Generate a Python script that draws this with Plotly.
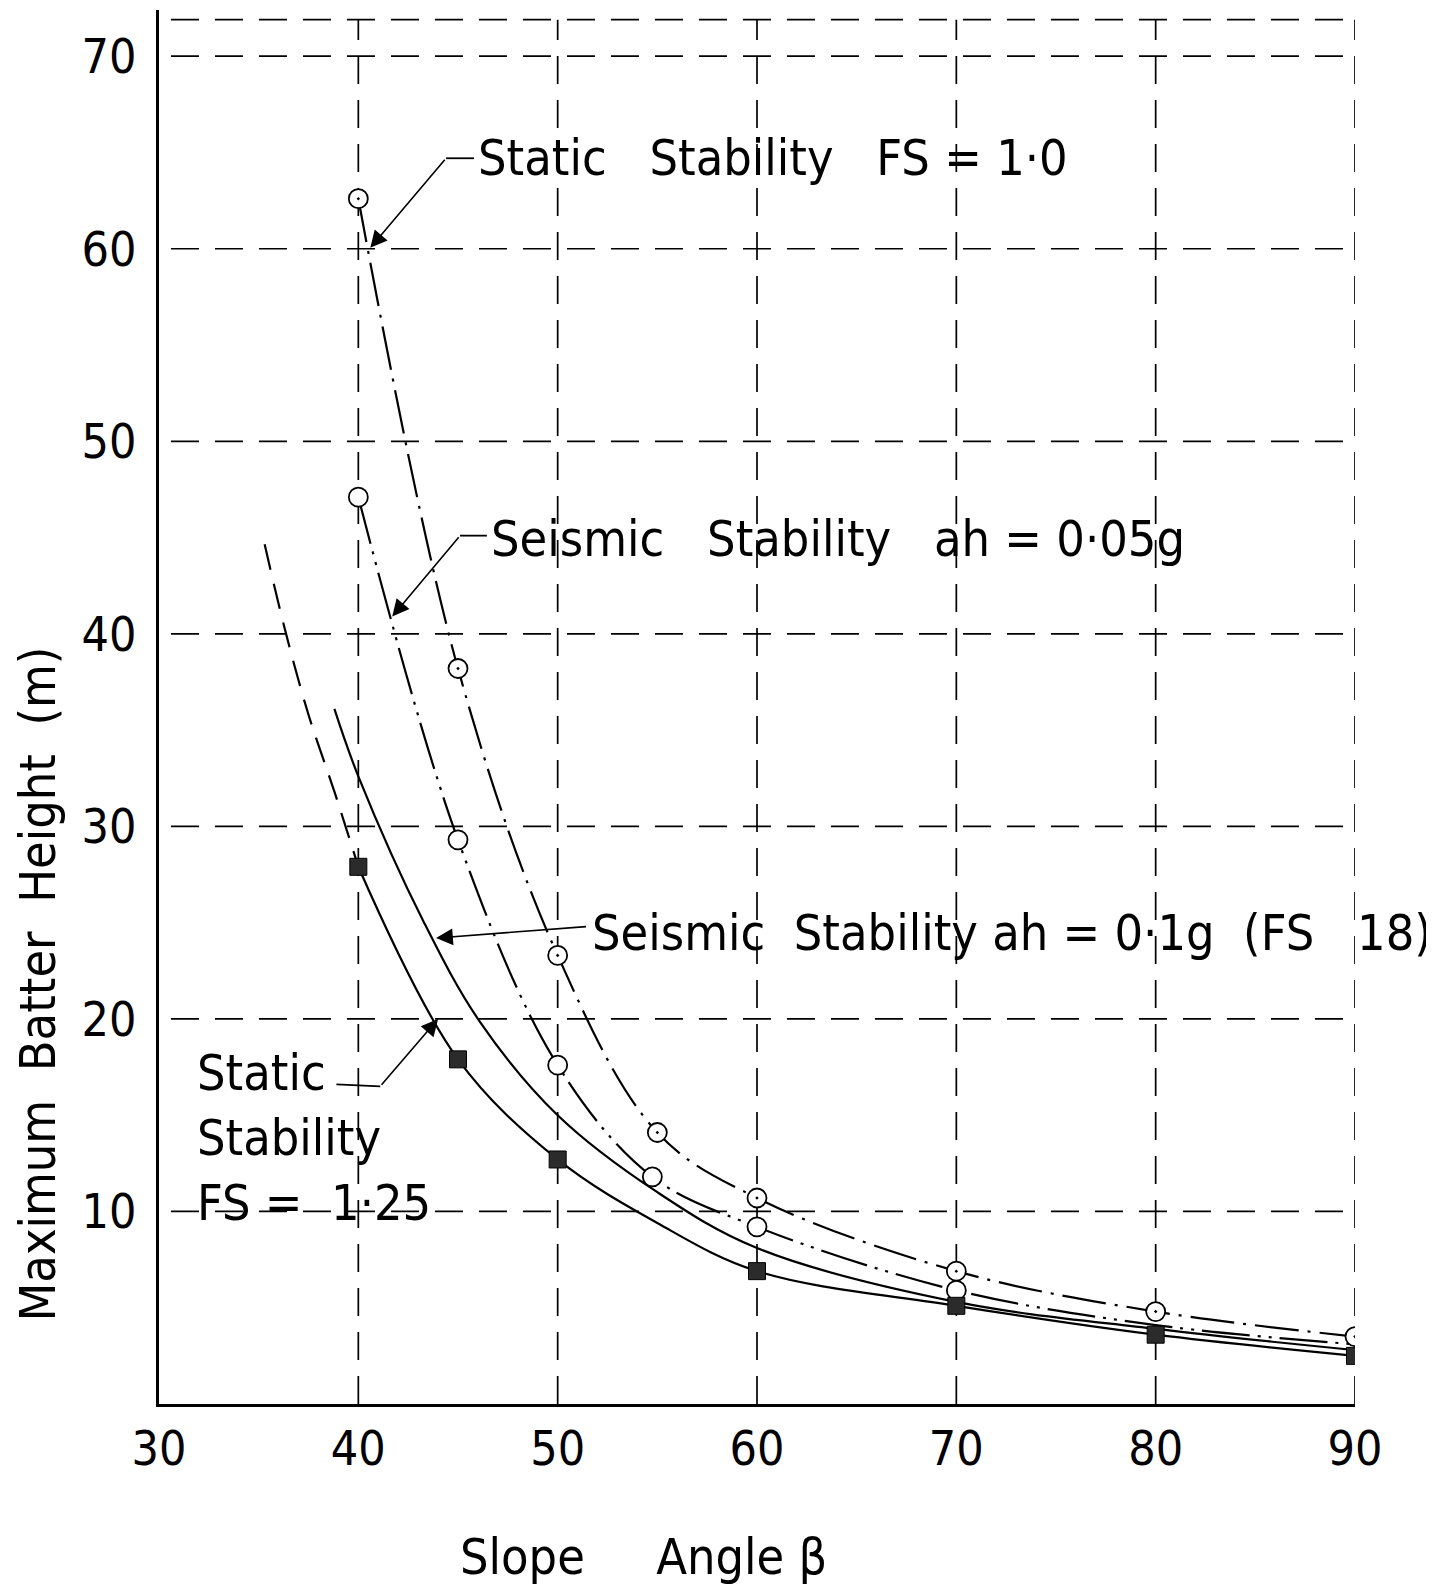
import plotly.graph_objects as go

# ---------------- data ----------------
x_ticks = [30, 40, 50, 60, 70, 80, 90]
y_ticks = [10, 20, 30, 40, 50, 60, 70]
grid_x = [40, 50, 60, 70, 80, 90]
grid_y = [10, 20, 30, 40, 50, 60, 70, 71.9]

# Static stability FS = 1.0  (circle with dot, dash-dot curve)
fs10_x = [40, 45, 50, 55, 60, 70, 80, 90]
fs10_y = [62.6, 38.2, 23.3, 14.1, 10.7, 6.9, 4.8, 3.5]

# Seismic stability ah = 0.05g  (open circles, dash-dot-dot curve)
s005_line_x = [40, 45, 50, 54.75, 60, 70, 80, 90]
s005_line_y = [47.1, 29.3, 17.6, 11.8, 9.2, 5.9, 4.1, 3.1]
s005_mark_x = [40, 45, 50, 54.75, 60, 70]
s005_mark_y = [47.1, 29.3, 17.6, 11.8, 9.2, 5.9]

# Seismic stability ah = 0.1g  (solid curve, no markers)
s01_x = [38.8, 40, 43.3, 46.1, 50, 55, 60, 70, 80, 90]
s01_y = [36.1, 32.6, 25.0, 19.85, 15.0, 11.0, 8.1, 5.3, 3.9, 2.8]

# Static stability FS = 1.25  (filled squares, solid curve + dashed extension)
fs125_mark_x = [40, 45, 50, 60, 70, 80, 90]
fs125_mark_y = [27.9, 17.9, 12.7, 6.9, 5.1, 3.6, 2.5]
fs125_line_x = [40, 45, 50, 55, 60, 70, 80, 90]
fs125_line_y = [27.9, 17.9, 12.7, 9.4, 6.9, 5.1, 3.6, 2.5]
fs125_ext_x = [35.3, 36.3, 37.5, 38.8, 40]
fs125_ext_y = [44.65, 40.3, 35.8, 31.8, 27.9]

NB = "\u00a0"
label_fs10 = f"Static{NB*3}Stability{NB*3}FS = 1·0"
label_s005 = f"Seismic{NB*3}Stability{NB*3}ah = 0·05g"
label_s01 = f"Seismic{NB*2}Stability{NB}ah = 0·1g{NB*2}(FS{NB*3}18)"
label_fs125 = f"Static<br>Stability<br>FS ={NB*2}1·25"
x_title = f"Slope{NB*5}Angle{NB}β"
y_title = f"Maximum{NB*2}Batter{NB*2}Height{NB*2}(m)"

# ---------------- styling ----------------
FONT = "DejaVu Sans Condensed, DejaVu Sans, sans-serif"
INK = "black"
FS_TEXT = 50
FS_TICK = 48

fig = go.Figure()

# curves
fig.add_trace(go.Scatter(x=fs10_x, y=fs10_y, mode="lines",
                         line=dict(color=INK, width=2.2, shape="spline", smoothing=1,
                                   dash="44px,9px,3px,9px")))
fig.add_trace(go.Scatter(x=s005_line_x, y=s005_line_y, mode="lines",
                         line=dict(color=INK, width=2.2, shape="spline", smoothing=1,
                                   dash="48px,8px,3px,8px,3px,8px")))
fig.add_trace(go.Scatter(x=s01_x, y=s01_y, mode="lines",
                         line=dict(color=INK, width=2.2, shape="spline", smoothing=1)))
fig.add_trace(go.Scatter(x=fs125_line_x, y=fs125_line_y, mode="lines",
                         line=dict(color=INK, width=2.2, shape="spline", smoothing=1)))
fig.add_trace(go.Scatter(x=fs125_ext_x, y=fs125_ext_y, mode="lines",
                         line=dict(color=INK, width=2.2, shape="spline", smoothing=1,
                                   dash="26px,14px")))

# markers
fig.add_trace(go.Scatter(x=fs10_x, y=fs10_y, mode="markers",
                         marker=dict(symbol="circle-dot", size=19, color="white",
                                     line=dict(color=INK, width=1.8))))
fig.add_trace(go.Scatter(x=s005_mark_x, y=s005_mark_y, mode="markers",
                         marker=dict(symbol="circle", size=19, color="white",
                                     line=dict(color=INK, width=1.8))))
fig.add_trace(go.Scatter(x=fs125_mark_x, y=fs125_mark_y, mode="markers",
                         marker=dict(symbol="square", size=17, color="#2b2b2b",
                                     line=dict(color=INK, width=1))))

# dashed grid as shapes
shapes = []
for gx in grid_x:
    shapes.append(dict(type="line", xref="x", yref="y", x0=gx, x1=gx, y0=0, y1=grid_y[-1],
                       line=dict(color=INK, width=1.7, dash="28px,16px"), layer="below"))
for gy in grid_y:
    shapes.append(dict(type="line", xref="x", yref="y", x0=30.6, x1=90, y0=gy, y1=gy,
                       line=dict(color=INK, width=1.7, dash="28px,16px"), layer="below"))

# leader lines (horizontal elbows)
leader = dict(color=INK, width=1.8)
shapes.append(dict(type="line", xref="x", yref="y", x0=44.4, x1=45.8, y0=64.7, y1=64.7, line=leader))
shapes.append(dict(type="line", xref="x", yref="y", x0=45.1, x1=46.45, y0=45.1, y1=45.1, line=leader))
shapes.append(dict(type="line", xref="x", yref="y", x0=38.9, x1=41.1, y0=16.6, y1=16.5, line=leader))

annotations = []


def arrow(tip_x, tip_y, tail_x, tail_y):
    return dict(x=tip_x, y=tip_y, ax=tail_x, ay=tail_y, xref="x", yref="y",
                axref="x", ayref="y", text="", showarrow=True, arrowhead=2,
                arrowsize=2.1, arrowwidth=1.6, arrowcolor=INK, standoff=0)


annotations.append(arrow(40.6, 60.05, 44.4, 64.7))
annotations.append(arrow(41.7, 40.9, 45.1, 45.1))
annotations.append(arrow(43.9, 24.2, 51.5, 24.8))
annotations.append(arrow(44.0, 20.0, 41.1, 16.5))


def text(x, y, s, xref="x", yref="y", anchor="left", size=FS_TEXT, angle=0):
    return dict(x=x, y=y, xref=xref, yref=yref, text=s, showarrow=False,
                xanchor=anchor, yanchor="middle", textangle=angle, align="left",
                font=dict(family=FONT, size=size, color=INK))


annotations.append(text(45.9, 64.7, label_fs10))
annotations.append(text(46.55, 44.9, label_s005))
annotations.append(text(51.6, 24.45, label_s01))
annotations.append(text(31.8, 13.8, label_fs125))
annotations.append(text(54.3, -0.1098, x_title, yref="paper", anchor="center"))
annotations.append(text(-0.101, 21.8, y_title, xref="paper", anchor="center", angle=-90))

fig.update_layout(
    width=1426, height=1584,
    margin=dict(l=151, r=79, t=2, b=188),
    paper_bgcolor="white", plot_bgcolor="white",
    showlegend=False,
    shapes=shapes,
    annotations=annotations,
    xaxis=dict(range=[30, 90], tickvals=x_ticks, ticktext=[str(v) for v in x_ticks],
               showgrid=False, zeroline=False, showline=True, linecolor=INK, linewidth=3,
               ticks="", ticklabelstandoff=0,
               tickfont=dict(family=FONT, size=FS_TICK, color=INK)),
    yaxis=dict(range=[0, 72.4], tickvals=y_ticks, ticktext=[str(v) for v in y_ticks],
               showgrid=False, zeroline=False, showline=True, linecolor=INK, linewidth=3,
               ticks="", ticklabelstandoff=10,
               tickfont=dict(family=FONT, size=FS_TICK, color=INK)),
)

fig.write_html("out.html")
